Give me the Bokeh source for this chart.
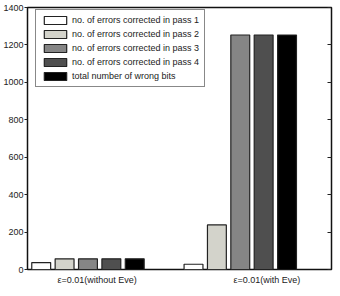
from bokeh.plotting import figure
from bokeh.models import LinearAxis, FixedTicker, Range1d, Legend
from bokeh.embed import file_html
from bokeh.resources import INLINE

# ---- data ----
group_labels = ["ε=0.01(without Eve)", "ε=0.01(with Eve)"]
group_pos = [0, 1]
label_pos = [0.367, 1.482]
series_names = [
    "no. of errors corrected in pass 1",
    "no. of errors corrected in pass 2",
    "no. of errors corrected in pass 3",
    "no. of errors corrected in pass 4",
    "total number of wrong bits",
]
pass1 = [37, 28]
pass2 = [57, 238]
pass3 = [57, 1253]
pass4 = [57, 1253]
total = [57, 1253]
y_ticks = [0, 200, 400, 600, 800, 1000, 1200, 1400]

series_values = [pass1, pass2, pass3, pass4, total]
colors = ["#ffffff", "#d3d3cb", "#858585", "#4f4f4f", "#000000"]
bar_step = 0.1535
bar_width = 0.124

p = figure(width=340, height=296, output_backend="svg", toolbar_location=None,
           x_range=Range1d(-0.090, 1.906), y_range=Range1d(0, 1400),
           min_border_left=25, min_border_right=9, min_border_top=7, min_border_bottom=27,
           x_axis_location=None, y_axis_location=None)
p.background_fill_color = "white"
p.border_fill_color = "white"
p.xgrid.visible = False
p.ygrid.visible = False
p.outline_line_color = "#111111"
p.outline_line_width = 1.5

renderers = []
for j, (vals, col) in enumerate(zip(series_values, colors)):
    xs = [g + j * bar_step for g in group_pos]
    r = p.vbar(x=xs, top=vals, width=bar_width, bottom=0,
               fill_color=col, line_color="#222222", line_width=1.2)
    renderers.append(r)

font = "Liberation Sans"

left = LinearAxis(ticker=FixedTicker(ticks=y_ticks))
left.axis_line_color = None
left.major_tick_out = 3
left.major_tick_in = 0
left.minor_tick_out = 0
left.minor_tick_in = 0
left.major_label_standoff = 1
left.major_label_text_font = font
left.major_label_text_font_size = "9px"
left.major_label_text_color = "#222222"
left.major_tick_line_color = "#222222"
p.add_layout(left, "left")

right = LinearAxis(ticker=FixedTicker(ticks=y_ticks))
right.axis_line_color = None
right.major_tick_out = 0
right.major_tick_in = 4
right.minor_tick_out = 0
right.minor_tick_in = 0
right.major_label_text_font_size = "0px"
right.major_label_text_alpha = 0
right.major_tick_line_color = "#222222"
p.add_layout(right, "right")

bottom = LinearAxis(ticker=FixedTicker(ticks=label_pos))
bottom.major_label_overrides = {label_pos[i]: group_labels[i] for i in range(2)}
bottom.axis_line_color = None
bottom.major_tick_out = 0
bottom.major_tick_in = 0
bottom.minor_tick_out = 0
bottom.minor_tick_in = 0
bottom.major_label_standoff = 5
bottom.major_label_text_font = font
bottom.major_label_text_font_size = "9px"
bottom.major_label_text_color = "#222222"
p.add_layout(bottom, "below")

legend = Legend(items=[(n, [r]) for n, r in zip(series_names, renderers)],
                location=(8, 182))
legend.label_text_font = font
legend.label_text_font_size = "9px"
legend.label_text_color = "#222222"
legend.glyph_width = 28
legend.glyph_height = 10
legend.label_height = 10
legend.label_standoff = 3
legend.spacing = 4
legend.padding = 5
legend.margin = 0
legend.border_line_color = "#111111"
legend.border_line_width = 1.2
legend.background_fill_color = "white"
legend.background_fill_alpha = 1
p.add_layout(legend, "center")

open("out.html", "w").write(file_html(p, INLINE))
